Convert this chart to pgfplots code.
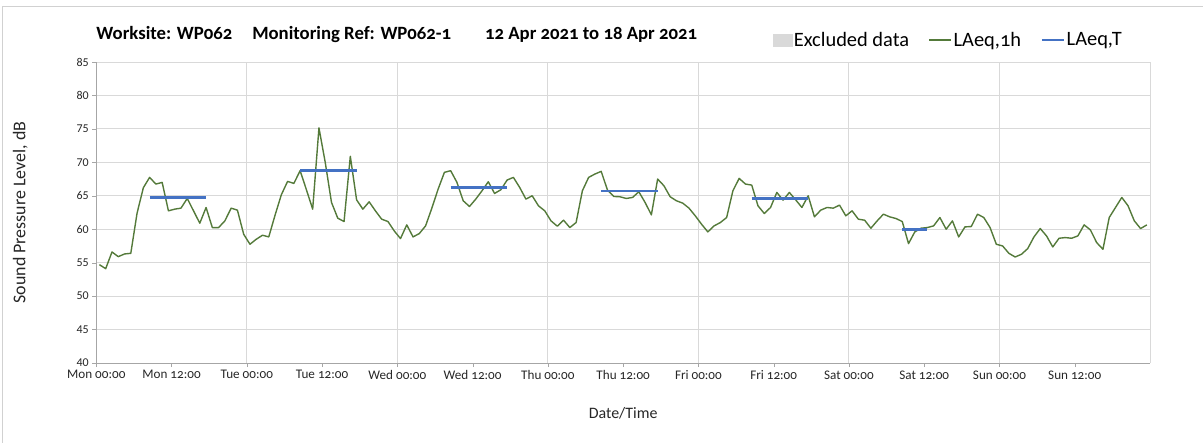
\documentclass[border=0pt]{standalone}
\usepackage{fontspec}
\setmainfont{Carlito}[Numbers=OldStyle]
\newfontfamily\lining{Carlito}
\usepackage{pgfplots}
\pgfplotsset{compat=1.18}
\usepackage{pgfplotstable}
\definecolor{hourgreen}{RGB}{84,122,58}
\definecolor{tblue}{RGB}{68,114,196}
\definecolor{gridgray}{RGB}{217,217,217}
\definecolor{exclgray}{RGB}{217,217,217}

% hourly LAeq, hour index from Mon 00:00
\pgfplotstableread{
hour laeq
0 54.7
1 54.1
2 56.6
3 55.9
4 56.3
5 56.4
6 62.4
7 66.2
8 67.75
9 66.75
10 67.0
11 62.75
12 63.0
13 63.15
14 64.6
15 62.75
16 60.9
17 63.25
18 60.25
19 60.25
20 61.25
21 63.15
22 62.85
23 59.25
24 57.75
25 58.5
26 59.1
27 58.85
28 62.1
29 65.15
30 67.15
31 66.85
32 68.75
33 65.9
34 63.0
35 75.15
36 70.0
37 64.0
38 61.65
39 61.15
40 70.9
41 64.4
42 63.0
43 64.1
44 62.75
45 61.5
46 61.15
47 59.75
48 58.6
49 60.65
50 58.85
51 59.35
52 60.5
53 63.15
54 66.0
55 68.5
56 68.75
57 67.0
58 64.25
59 63.4
60 64.5
61 65.75
62 67.1
63 65.35
64 65.9
65 67.35
66 67.75
67 66.25
68 64.5
69 65.0
70 63.5
71 62.75
72 61.25
73 60.45
74 61.35
75 60.25
76 61.0
77 65.75
78 67.75
79 68.25
80 68.65
81 65.85
82 64.9
83 64.85
84 64.6
85 64.75
86 65.6
87 64.0
88 62.15
89 67.5
90 66.5
91 64.85
92 64.25
93 63.9
94 63.15
95 62.0
96 60.75
97 59.6
98 60.5
99 61.0
100 61.75
101 65.75
102 67.6
103 66.75
104 66.6
105 63.5
106 62.35
107 63.25
108 65.5
109 64.35
110 65.5
111 64.4
112 63.25
113 65.0
114 61.85
115 62.85
116 63.25
117 63.15
118 63.6
119 62.0
120 62.75
121 61.5
122 61.35
123 60.15
124 61.25
125 62.25
126 61.85
127 61.6
128 61.15
129 57.85
130 59.6
131 60.15
132 60.25
133 60.5
134 61.75
135 60.0
136 61.25
137 58.85
138 60.35
139 60.4
140 62.25
141 61.75
142 60.25
143 57.75
144 57.5
145 56.4
146 55.85
147 56.25
148 57.1
149 58.85
150 60.1
151 59.0
152 57.35
153 58.65
154 58.75
155 58.65
156 59.0
157 60.65
158 59.9
159 58.0
160 57.0
161 61.75
162 63.25
163 64.75
164 63.5
165 61.25
166 60.1
167 60.65
}\hourly

\begin{document}
\begin{tikzpicture}
\path[use as bounding box] (0bp,0bp) rectangle (1203bp,443bp);
\draw[black!18] (2.5bp,0bp) -- (2.5bp,436.5bp) -- (1203bp,436.5bp);
\begin{axis}[
  at={(96.3bp,80bp)}, anchor=south west,
  width=1053.7bp, height=301bp, scale only axis,
  xmin=0, xmax=168, ymin=40, ymax=85,
  xtick={0,12,...,156},
  xticklabels={Mon 00:00,Mon 12:00,Tue 00:00,Tue 12:00,Wed 00:00,Wed 12:00,Thu 00:00,Thu 12:00,Fri 00:00,Fri 12:00,Sat 00:00,Sat 12:00,Sun 00:00,Sun 12:00},
  minor xtick={24,48,...,168},
  ytick={40,45,...,85},
  ymajorgrids, xminorgrids,
  major grid style={gridgray,line width=1bp},
  minor grid style={gridgray,line width=1bp},
  axis lines*=left,
  axis line style={black!35,line width=0.8bp},
  tick align=outside,
  major tick length=4bp, minor tick length=0pt,
  tick style={black!35},
  xticklabel style={font=\fontsize{13.2}{15}\selectfont,text=black!85},
  yticklabel style={font=\lining\fontsize{12}{14}\selectfont,text=black!85},
  /pgf/number format/assume math mode=true,
  xlabel={Date/Time},
  ylabel={Sound Pressure Level, dB},
  label style={text=black!85},
  xlabel style={at={(axis description cs:0.5,-0.166)},anchor=center,
    font=\fontsize{16}{18}\selectfont},
  ylabel style={at={(axis description cs:-0.0721,0.5)},anchor=center,
    font=\fontsize{18}{20}\selectfont},
  title={Worksite: WP062\hspace{20bp}Monitoring Ref: WP062-1\hspace{34bp}12 Apr 2021 to 18 Apr 2021},
  title style={at={(axis description cs:0,1.073)},anchor=west,inner sep=0pt,
    font=\bfseries\fontsize{18.8}{21}\selectfont},
  legend columns=3,
  legend cell align=left,
  legend image code/.code={\draw[#1] (0bp,0bp) -- (22bp,0bp);},
  legend style={at={(0.642,1.073)},anchor=west,draw=none,fill=none,inner sep=0pt,
    font=\fontsize{20.5}{23}\selectfont,
    nodes={inner sep=1.5bp},
    /tikz/every even column/.append style={column sep=18bp}},
]
\addlegendimage{legend image code/.code={\fill[exclgray] (0bp,-6bp) rectangle (19bp,6bp);}}
\addlegendentry{Excluded data}
\addplot[hourgreen,line width=1.4bp,line join=round]
  table[x expr=\thisrow{hour}+0.5,y=laeq] {\hourly};
\addlegendentry{LAeq,1h}
\addplot[tblue,line width=2.6bp] coordinates {(8.5,64.7) (17.5,64.7)};
\addlegendentry{LAeq,T}
\addplot[tblue,line width=2.6bp,forget plot] coordinates {(32.5,68.8) (41.5,68.8)};
\addplot[tblue,line width=2.6bp,forget plot] coordinates {(56.5,66.2) (65.5,66.2)};
\addplot[tblue,line width=2.6bp,forget plot] coordinates {(80.5,65.7) (89.5,65.7)};
\addplot[tblue,line width=2.6bp,forget plot] coordinates {(104.5,64.55) (113.5,64.55)};
\addplot[tblue,line width=2.6bp,forget plot] coordinates {(128.5,59.95) (132.5,59.95)};
\end{axis}
\end{tikzpicture}
\end{document}
